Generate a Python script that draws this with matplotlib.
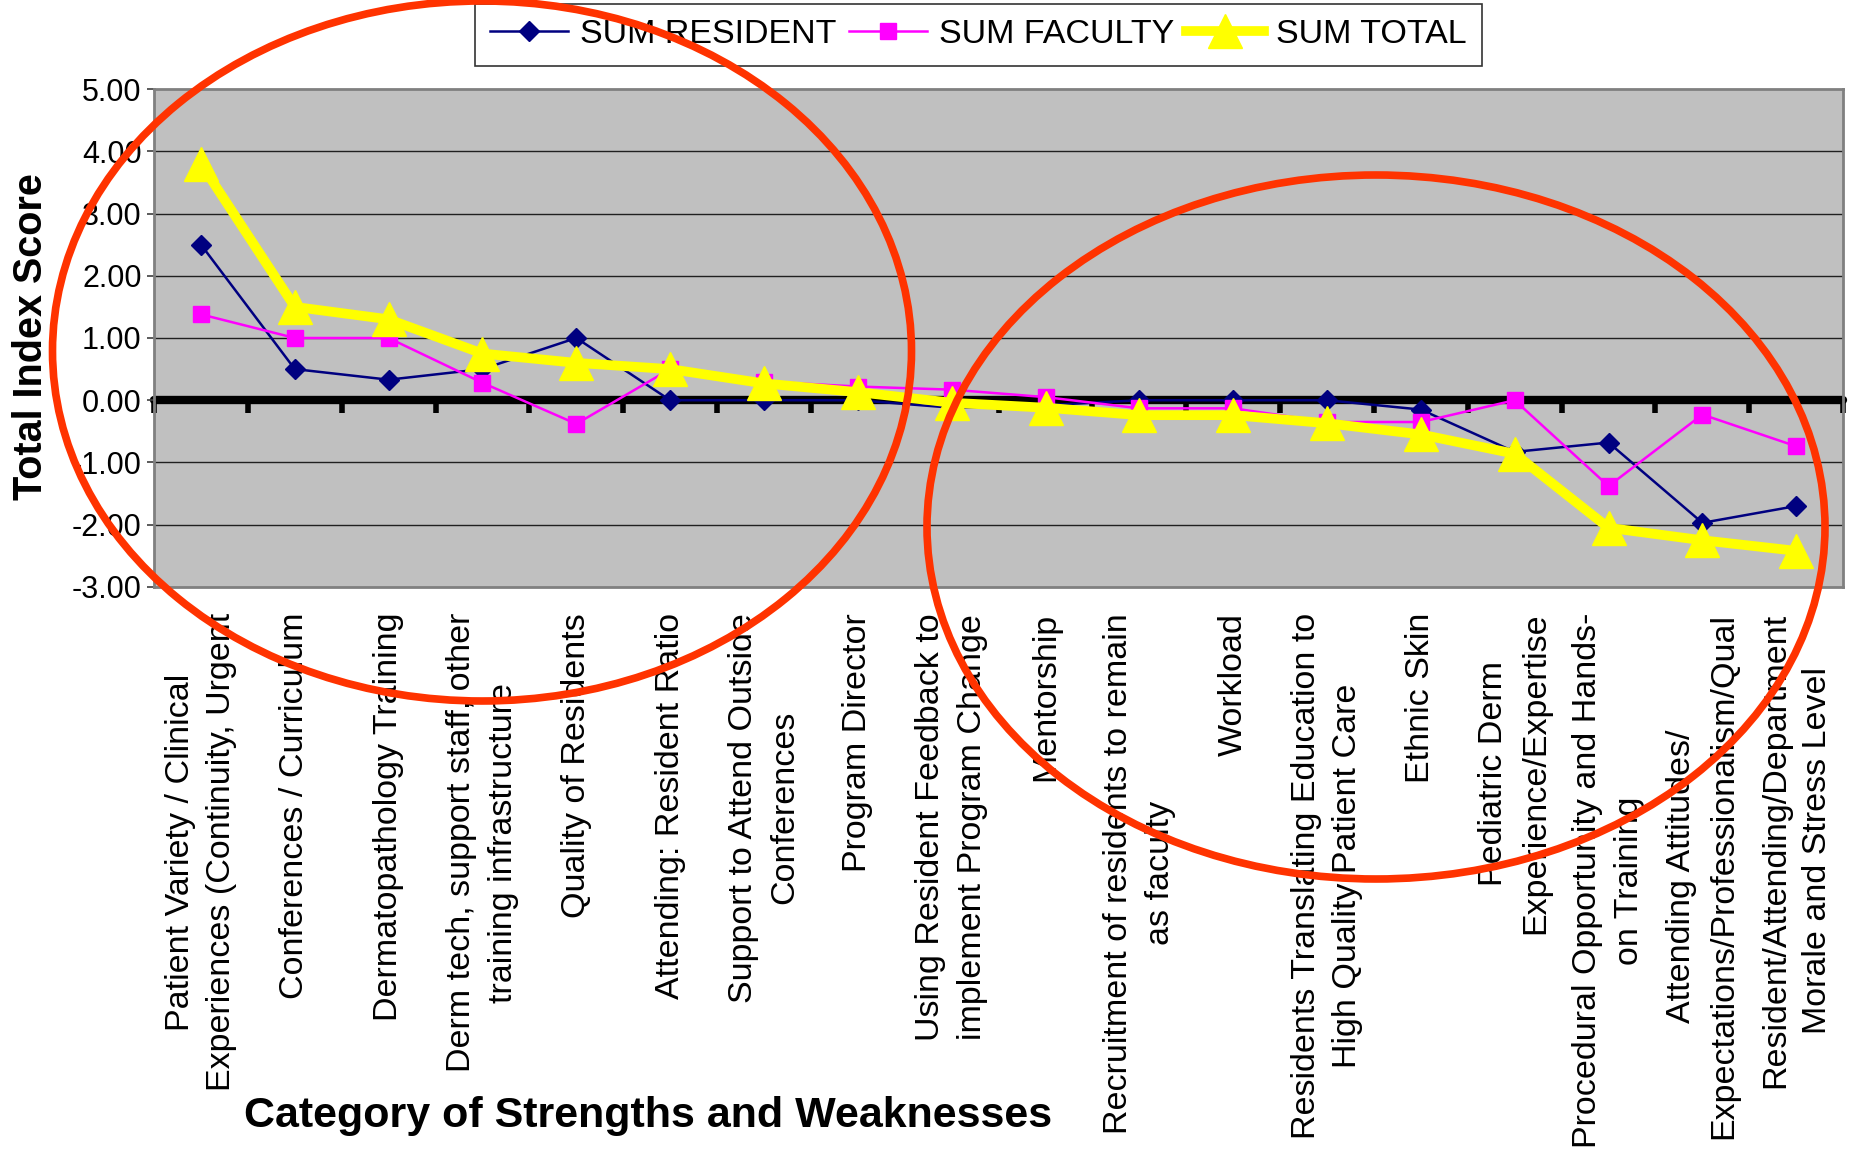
import matplotlib
matplotlib.use("Agg")
import matplotlib.pyplot as plt
from matplotlib.patches import Ellipse

# ==========================================
# DATA
# ==========================================
CATEGORIES = [
    "Patient Variety / Clinical\nExperiences (Continuity, Urgent",
    "Conferences / Curriculum",
    "Dermatopathology Training",
    "Derm tech, support staff, other\ntraining infrastructure",
    "Quality of Residents",
    "Attending: Resident Ratio",
    "Support to Attend Outside\nConferences",
    "Program Director",
    "Using Resident Feedback to\nimplement Program Change",
    "Mentorship",
    "Recruitment of residents to remain\nas faculty",
    "Workload",
    "Residents Translating Education to\nHigh Quality Patient Care",
    "Ethnic Skin",
    "Pediatric Derm\nExperience/Expertise",
    "Procedural Opportunity and Hands-\non Training",
    "Attending Attitudes/\nExpectations/Professionalism/Qual",
    "Resident/Attending/Department\nMorale and Stress Level",
]

SUM_RESIDENT = [2.50, 0.50, 0.33, 0.50, 1.00, 0.00, 0.00, 0.00, -0.12, -0.08,
                0.00, 0.00, 0.00, -0.15, -0.83, -0.68, -1.97, -1.70]
SUM_FACULTY = [1.38, 1.00, 1.00, 0.28, -0.38, 0.50, 0.30, 0.22, 0.17, 0.05,
               -0.13, -0.13, -0.35, -0.35, 0.00, -1.38, -0.23, -0.74]
SUM_TOTAL = [3.80, 1.50, 1.30, 0.75, 0.60, 0.50, 0.27, 0.13, -0.04, -0.12,
             -0.24, -0.24, -0.37, -0.55, -0.86, -2.05, -2.25, -2.42]

Y_TICKS = [5, 4, 3, 2, 1, 0, -1, -2, -3]

plt.rcParams["font.family"] = ["Liberation Sans", "DejaVu Sans"]


def make_chart():
    fig = plt.figure(figsize=(18.58, 11.52), dpi=100)
    ax = fig.add_axes([0.0829, 0.4905, 0.9091, 0.4322])
    ax.set_facecolor("#C0C0C0")

    x = list(range(len(CATEGORIES)))
    ax.set_xlim(-0.5, len(CATEGORIES) - 0.5)
    ax.set_ylim(-3, 5)

    # horizontal grid
    for y in Y_TICKS:
        if y not in (0, 5, -3):
            ax.axhline(y, color="#202020", lw=1.0, zorder=1)

    for side in ("top", "left", "right", "bottom"):
        ax.spines[side].set_color("#808080")
        ax.spines[side].set_linewidth(2)

    ax.set_yticks(Y_TICKS)
    ax.set_yticklabels([f"{v:.2f}" for v in Y_TICKS], fontsize=22)
    ax.tick_params(axis="y", length=5, width=1.2, color="#404040", pad=4)
    ax.set_xticks([])

    # zero axis with category boundary ticks
    zero = ax.secondary_xaxis(3 / 8)
    zero.set_xticks([i - 0.5 for i in range(len(CATEGORIES) + 1)])
    zero.set_xticklabels([])
    zero.tick_params(length=9, width=4, color="black", direction="out")
    zero.spines["bottom"].set_linewidth(6)
    zero.spines["bottom"].set_color("black")
    zero.spines["bottom"].set_capstyle("round")

    ax.plot(x, SUM_RESIDENT, color="#000080", lw=1.8, marker="D", ms=10,
            label="SUM RESIDENT", zorder=4)
    ax.plot(x, SUM_FACULTY, color="#FF00FF", lw=1.8, marker="s", ms=11,
            label="SUM FACULTY", zorder=5)
    ax.plot(x, SUM_TOTAL, color="#FFFF00", lw=7, marker="^", ms=25,
            label="SUM TOTAL", zorder=6, solid_joinstyle="round")

    # category labels under the plot area
    for i, lab in enumerate(CATEGORIES):
        ax.text(i, -0.052, lab, transform=ax.get_xaxis_transform(),
                rotation=90, ha="center", va="top", multialignment="center",
                fontsize=24.5, linespacing=1.45)

    fig.text(0.0165, 0.7075, "Total Index Score", rotation=90, ha="center",
             va="center", fontsize=28.5, fontweight="bold")
    fig.text(0.349, 0.031, "Category of Strengths and Weaknesses",
             ha="center", va="center", fontsize=31, fontweight="bold")

    leg = fig.legend(loc="upper center", bbox_to_anchor=(0.5266, 0.9965),
                     ncol=3, frameon=True, fancybox=False,
                     prop={"size": 24.5},
                     handlelength=2.3, handletextpad=0.35, columnspacing=0.35,
                     borderpad=0.45, borderaxespad=0)
    leg.get_frame().set_edgecolor("black")
    leg.get_frame().set_linewidth(1.2)

    # red hand-drawn ellipses
    W, H = 1858, 1152
    for cx, cy, w, h in [(482, 351, 859, 700), (1376, 527, 898, 704)]:
        fig.patches.append(Ellipse((cx / W, 1 - cy / H), w / W, h / H,
                                   transform=fig.transFigure, fill=False,
                                   edgecolor="#FF3300", lw=5.5, zorder=20))

    fig.savefig("out.png", dpi=100)


if __name__ == "__main__":
    make_chart()
